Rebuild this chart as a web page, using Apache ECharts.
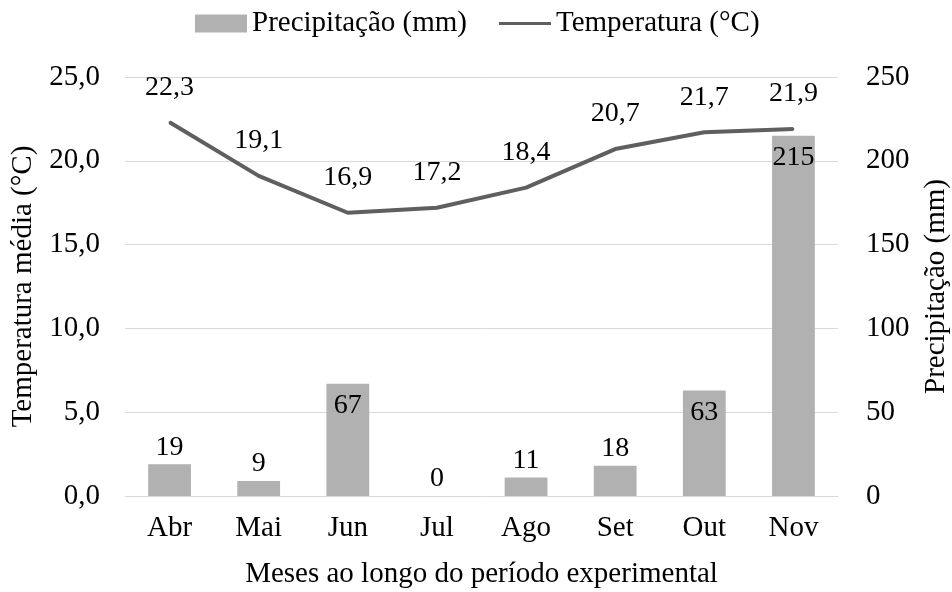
<!DOCTYPE html>
<html><head><meta charset="utf-8">
<script src="https://cdn.jsdelivr.net/npm/echarts@6/dist/echarts.min.js"></script>
<style>html,body{margin:0;padding:0;background:#fff}#c{width:952px;height:592px}</style>
</head><body><div id="c"></div>
<script>
const months = ['Abr','Mai','Jun','Jul','Ago','Set','Out','Nov'];
const precipitation = [19, 9, 67, 0, 11, 18, 63, 215];
const temperature = [22.3, 19.1, 16.9, 17.2, 18.4, 20.7, 21.7, 21.9];
const insideLabelMonths = ['Jun','Out','Nov'];

const FONT = 'Liberation Serif';
const FS = 29;
const chart = echarts.init(document.getElementById('c'));
const fmtComma = v => v.toFixed(1).replace('.', ',');
chart.setOption({
  animation: false,
  textStyle: {fontFamily: FONT, color: '#000'},
  legend: {
    top: 4, left: 190,
    itemWidth: 52, itemHeight: 18, itemGap: 32,
    textStyle: {fontFamily: FONT, fontSize: FS, color: '#000'},
    data: [
      {name: 'Precipitação (mm)', icon: 'rect'},
      {name: 'Temperatura (°C)', icon: 'path://M0,7.5 L52,7.5 L52,10.5 L0,10.5 Z', itemStyle: {color: '#5f5f5f'}}
    ]
  },
  grid: {left: 125, right: 114, top: 77, bottom: 96, outerBoundsMode: 'none', containLabel: false},
  xAxis: {
    type: 'category', data: months,
    axisLine: {show: true, lineStyle: {color: '#d9d9d9', width: 1}},
    axisTick: {show: false},
    axisLabel: {fontFamily: FONT, fontSize: FS, color: '#000', margin: 18},
    name: 'Meses ao longo do período experimental',
    nameLocation: 'middle', nameGap: 64,
    nameTextStyle: {fontFamily: FONT, fontSize: FS, color: '#000'}
  },
  yAxis: [
    {
      type: 'value', min: 0, max: 25, interval: 5,
      axisLine: {show: false}, axisTick: {show: false},
      splitLine: {lineStyle: {color: '#d9d9d9', width: 1}},
      axisLabel: {fontFamily: FONT, fontSize: FS, color: '#000', margin: 25, formatter: fmtComma},
      name: 'Temperatura média (°C)', nameLocation: 'middle', nameGap: 78, nameRotate: 90,
      nameTextStyle: {fontFamily: FONT, fontSize: FS, color: '#000'}
    },
    {
      type: 'value', min: 0, max: 250, interval: 50,
      axisLine: {show: false}, axisTick: {show: false},
      splitLine: {show: false},
      axisLabel: {fontFamily: FONT, fontSize: FS, color: '#000', margin: 28},
      name: 'Precipitação (mm)', nameLocation: 'middle', nameGap: 84, nameRotate: 90,
      nameTextStyle: {fontFamily: FONT, fontSize: FS, color: '#000'}
    }
  ],
  series: [
    {
      name: 'Precipitação (mm)', type: 'bar', yAxisIndex: 1,
      barWidth: '48%',
      itemStyle: {color: '#b1b1b1'},
      data: precipitation.map((v, i) => ({
        value: v,
        label: insideLabelMonths.includes(months[i]) ? {position: 'insideTop', distance: 8} : {position: 'top', distance: 3}
      })),
      label: {show: true, fontFamily: FONT, fontSize: 28, color: '#000'}
    },
    {
      name: 'Temperatura (°C)', type: 'line', yAxisIndex: 0,
      data: temperature,
      symbol: 'circle', symbolSize: 2, showSymbol: true,
      lineStyle: {color: '#5f5f5f', width: 4},
      itemStyle: {color: '#5f5f5f'},
      label: {show: true, position: 'top', distance: 20, fontFamily: FONT, fontSize: 28, color: '#000',
        formatter: p => fmtComma(p.value)}
    }
  ]
});
</script></body></html>
